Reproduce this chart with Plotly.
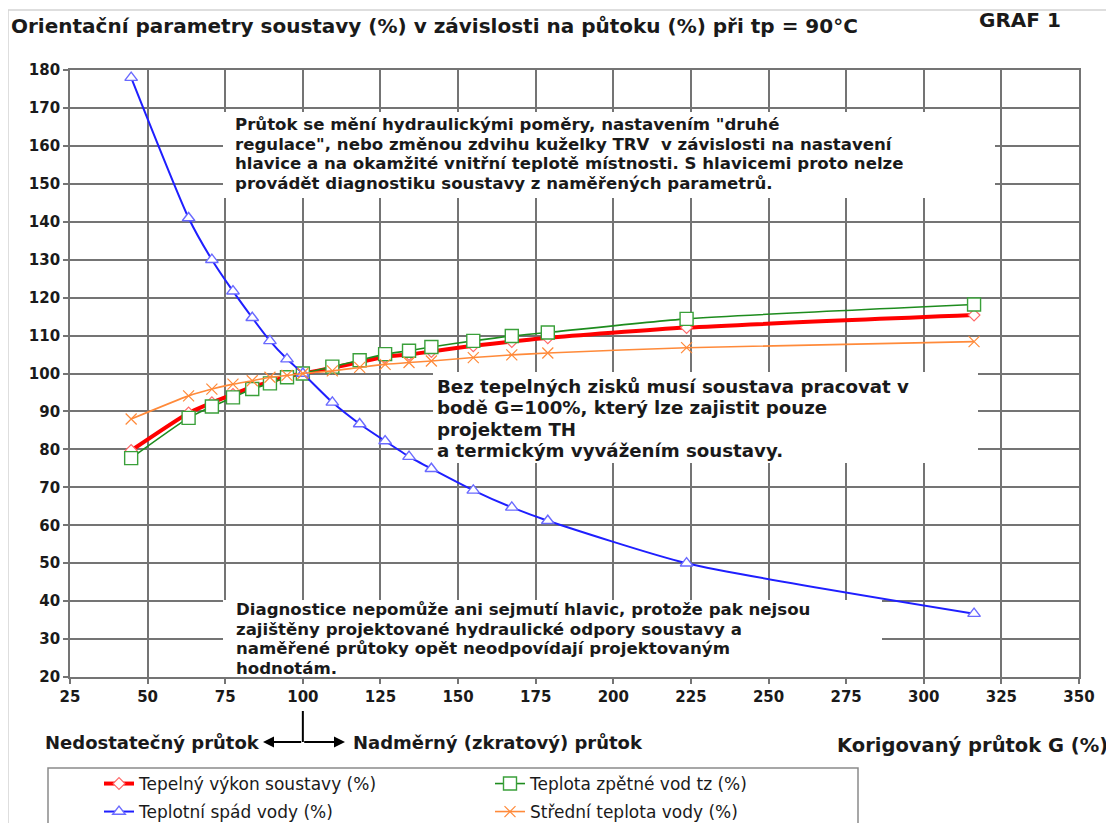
import plotly.graph_objects as go

# ---- data ----
flow = [44.7, 63.2, 70.7, 77.5, 83.7, 89.4, 94.9, 100, 109.5, 118.3, 126.5,
        134.2, 141.4, 154.9, 167.3, 178.9, 223.6, 316.2]
heat_output = [79.7, 89.6, 92.3, 94.5, 96.5, 97.8, 99.2, 100, 101.5, 103.0, 104.4,
               105.0, 105.8, 107.3, 108.4, 109.4, 112.1, 115.4]
return_temp = [77.7, 88.3, 91.3, 93.7, 95.9, 97.4, 99.0, 100, 101.8, 103.5, 105.1,
               106.0, 107.0, 108.6, 109.9, 110.8, 114.4, 118.2]
temp_drop = [178, 141, 130, 121.7, 114.7, 108.6, 103.8, 100, 92.4, 86.7, 82.2,
             78.1, 74.9, 69.2, 64.7, 61.2, 50.0, 36.7]
mean_temp = [88.0, 94.1, 95.9, 97.2, 98.1, 99.0, 99.5, 100, 100.7, 101.6, 102.4,
             102.9, 103.3, 104.2, 104.9, 105.4, 106.8, 108.4]

series_names = ["Tepelný výkon soustavy (%)", "Teplota zpětné vod tz (%)",
                "Teplotní spád vody (%)", "Střední teplota vody (%)"]

x_ticks = list(range(25, 351, 25))
y_ticks = list(range(20, 181, 10))

note1_lines = ["Průtok se mění hydraulickými poměry, nastavením \"druhé",
               "regulace\", nebo změnou zdvihu kuželky TRV  v závislosti na nastavení",
               "hlavice a na okamžité vnitřní teplotě místnosti. S hlavicemi proto nelze",
               "provádět diagnostiku soustavy z naměřených parametrů."]
note2_lines = ["Bez tepelných zisků musí soustava pracovat v",
               "bodě G=100%, který lze zajistit pouze",
               "projektem TH",
               "a termickým vyvážením soustavy."]
note3_lines = ["Diagnostice nepomůže ani sejmutí hlavic, protože pak nejsou",
               "zajištěny projektované hydraulické odpory soustavy a",
               "naměřené průtoky opět neodpovídají projektovaným",
               "hodnotám."]

# page has an 8px body margin; the figure is sized so that the plot lands where the reference has it
OFF = 8
W, H = 1114 - OFF, 823 - OFF
PL, PR, PT, PB = 70, 1079, 70, 677          # plot area edges in reference page pixels
ML, MT = PL - OFF, PT - OFF
MR, MB = W - (PR - OFF), H - (PB - OFF)


def paper_x(px):
    return (px - PL) / (PR - PL)


def paper_y(py):
    return (PB - py) / (PB - PT)


def data_x(px):
    return 25 + (px - PL) * 325 / (PR - PL)


def data_y(py):
    return 180 - (py - PT) * 160 / (PB - PT)


FONT = "DejaVu Sans"
TXT = "#1a1a1a"
GRID = "#747474"

fig = go.Figure()

fig.add_trace(go.Scatter(
    x=flow, y=heat_output, name=series_names[0], mode="lines+markers",
    line=dict(color="#ff0000", width=4, shape="spline", smoothing=0.6),
    marker=dict(symbol="diamond", size=9, color="white",
                line=dict(color="#ff6a6a", width=1.2)),
    legend="legend"))
fig.add_trace(go.Scatter(
    x=flow, y=return_temp, name=series_names[1], mode="lines+markers",
    line=dict(color="#1e8c1e", width=1.6, shape="spline", smoothing=0.6),
    marker=dict(symbol="square", size=13, color="white",
                line=dict(color="#3aa03a", width=1.4)),
    legend="legend"))
fig.add_trace(go.Scatter(
    x=flow, y=temp_drop, name=series_names[2], mode="lines+markers",
    line=dict(color="#1f1fff", width=2, shape="spline", smoothing=0.6),
    marker=dict(symbol="triangle-up", size=11, color="white",
                line=dict(color="#6a6aff", width=1.4)),
    legend="legend2"))
fig.add_trace(go.Scatter(
    x=flow, y=mean_temp, name=series_names[3], mode="lines+markers",
    line=dict(color="#ff8a3a", width=1.6, shape="spline", smoothing=0.6),
    marker=dict(symbol="x-thin", size=11,
                line=dict(color="#ff8a3a", width=1.2)),
    legend="legend2"))

shapes = []
# outer light frame
shapes.append(dict(type="rect", xref="paper", yref="paper",
                   x0=paper_x(8), x1=paper_x(1113), y0=paper_y(840), y1=paper_y(10),
                   line=dict(color="#d4d4d4", width=1.5), layer="below"))
# white boxes covering the grid behind the notes (reference pixel boxes)
boxes_px = [(223, 995, 112, 198), (433, 978, 372, 463), (223, 882, 600, 677)]
for x0, x1, y0, y1 in boxes_px:
    shapes.append(dict(type="rect", xref="x", yref="y",
                       x0=data_x(x0), x1=data_x(x1), y0=data_y(y1), y1=data_y(y0),
                       fillcolor="white", line=dict(width=0), layer="between"))
# legend frame
shapes.append(dict(type="rect", xref="paper", yref="paper",
                   x0=paper_x(48), x1=paper_x(858), y0=paper_y(845), y1=paper_y(768),
                   line=dict(color="#8a8a8a", width=1.5), fillcolor="rgba(0,0,0,0)",
                   layer="above"))
# vertical part of the 100 % marker
shapes.append(dict(type="line", xref="x", yref="paper", x0=100, x1=100,
                   y0=paper_y(711), y1=paper_y(742),
                   line=dict(color="black", width=2)))

annotations = []


def add_note(lines, left_px, mid_px, spacing_px, glyph_px):
    # base font size sets the line spacing (1.3 em); inner spans set the glyph size
    base = spacing_px / 1.3
    text = "<br>".join('<span style="font-size:%gpx">%s</span>' % (glyph_px, t) for t in lines)
    annotations.append(dict(
        xref="x", yref="y", x=data_x(left_px), y=data_y(mid_px),
        xanchor="left", yanchor="middle", align="left", showarrow=False,
        font=dict(family=FONT, size=base, color=TXT, weight="bold"), text=text))


add_note(note1_lines, 233, 154, 19.6, 16.6)
add_note(note2_lines, 435, 418, 21.4, 18.2)
add_note(note3_lines, 234, 638.5, 19.6, 16.6)

# titles
annotations.append(dict(
    xref="paper", yref="paper", x=paper_x(9), y=paper_y(26),
    xanchor="left", yanchor="middle", showarrow=False,
    font=dict(family=FONT, size=20, color=TXT, weight="bold"),
    text="Orientační parametry soustavy (%) v závislosti na půtoku (%) při tp = 90°C"))
annotations.append(dict(
    xref="paper", yref="paper", x=paper_x(977), y=paper_y(20.5),
    xanchor="left", yanchor="middle", showarrow=False,
    font=dict(family=FONT, size=20, color=TXT, weight="bold"),
    text="GRAF 1"))

below_font = dict(family=FONT, size=18, color=TXT, weight="bold")
annotations.append(dict(
    xref="paper", yref="paper", x=paper_x(262), y=paper_y(742),
    xanchor="right", yanchor="middle", showarrow=False, font=below_font,
    text="Nedostatečný průtok"))
annotations.append(dict(
    xref="paper", yref="paper", x=paper_x(351), y=paper_y(742),
    xanchor="left", yanchor="middle", showarrow=False, font=below_font,
    text="Nadměrný (zkratový) průtok"))
annotations.append(dict(
    xref="paper", yref="paper", x=paper_x(1110), y=paper_y(745),
    xanchor="right", yanchor="middle", showarrow=False,
    font=dict(family=FONT, size=19.5, color=TXT, weight="bold"),
    text="Korigovaný průtok G (%)"))
# arrows left and right from 100 %
for head_px in (263, 345):
    annotations.append(dict(
        xref="paper", yref="paper", x=paper_x(head_px), y=paper_y(742),
        ax=302.7 - head_px, ay=0, text="", showarrow=True,
        arrowhead=2, arrowsize=1.1, arrowwidth=2, arrowcolor="black"))

legend_common = dict(orientation="h", x=paper_x(99), xanchor="left", yanchor="middle",
                     entrywidth=346, entrywidthmode="pixels",
                     font=dict(family=FONT, size=17, color=TXT),
                     bgcolor="rgba(0,0,0,0)", borderwidth=0, traceorder="normal")

fig.update_layout(
    width=W, height=H,
    margin=dict(l=ML, r=MR, t=MT, b=MB, autoexpand=False),
    paper_bgcolor="white", plot_bgcolor="white",
    font=dict(family=FONT, color=TXT),
    shapes=shapes, annotations=annotations,
    showlegend=True,
    legend=dict(legend_common, y=paper_y(784)),
    legend2=dict(legend_common, y=paper_y(812)),
)

axis_common = dict(showgrid=True, gridcolor=GRID, gridwidth=1.7,
                   showline=True, linecolor=GRID, linewidth=1.7, mirror=True,
                   ticks="outside", ticklen=5, tickcolor=GRID, tickwidth=1.7,
                   zeroline=False,
                   tickfont=dict(family=FONT, size=15, color=TXT, weight="bold"))
fig.update_xaxes(range=[25, 350], tickvals=x_ticks, ticktext=[str(v) for v in x_ticks],
                 **axis_common)
fig.update_yaxes(range=[20, 180], tickvals=y_ticks, ticktext=[str(v) for v in y_ticks],
                 **axis_common)

fig.write_html("out.html")
